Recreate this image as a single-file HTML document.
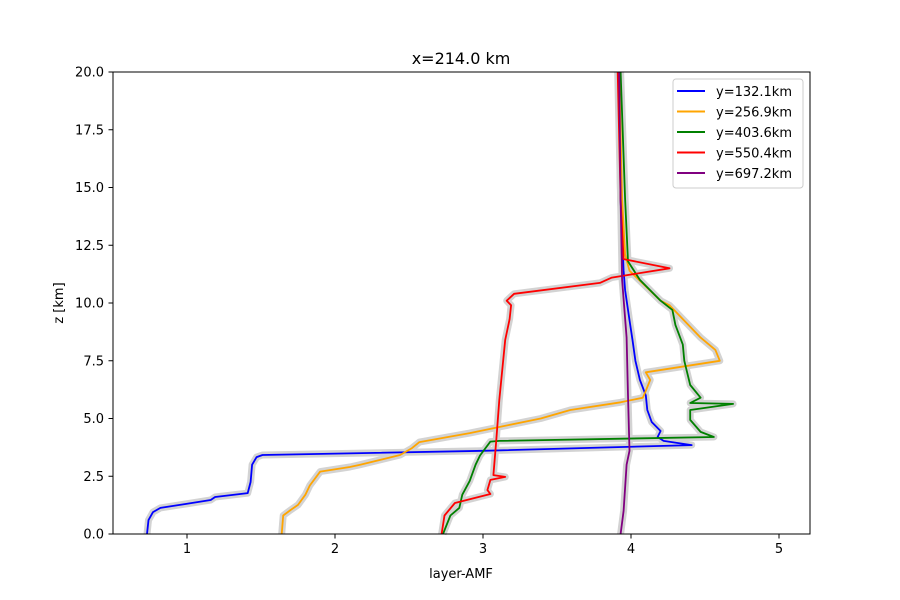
<!DOCTYPE html>
<html><head><meta charset="utf-8"><style>
body{margin:0;background:#fff}
svg{display:block;font-family:"DejaVu Sans","Liberation Sans",sans-serif}
</style></head><body>
<svg id="chart" width="900" height="600" xmlns="http://www.w3.org/2000/svg">
<rect width="900" height="600" fill="#fff"/>
<text x="461" y="64" font-size="16" text-anchor="middle">x=214.0 km</text>
<text x="461" y="578" font-size="13" text-anchor="middle">layer-AMF</text>
<text x="63" y="303" font-size="13" text-anchor="middle" transform="rotate(-90 63 303)">z [km]</text>
<g id="shades"></g>
<g id="lines"></g>
<rect x="113" y="72" width="697" height="462" fill="none" stroke="#000" stroke-width="1"/>
<g id="axes" font-size="13"></g>
<g id="legend">
<rect x="673" y="79" width="130" height="109" rx="3" fill="#fff" fill-opacity="0.8" stroke="#ccc"/>
</g>
</svg>
<script>
const xTicks=[1,2,3,4,5];
const yTicks=[0,2.5,5,7.5,10,12.5,15,17.5,20];
const seriesNames=["y=132.1km","y=256.9km","y=403.6km","y=550.4km","y=697.2km"];
const seriesColors=["blue","orange","green","red","purple"];
const blueX=[0.73,0.74,0.77,0.82,0.99,1.16,1.19,1.41,1.43,1.44,1.47,1.51,3.0,4.41,4.22,4.18,4.2,4.14,4.11,4.1,4.06,4.03,4.01,3.99,3.98,3.96,3.95,3.93,3.92];
const blueZ=[0,0.6,0.95,1.13,1.3,1.47,1.6,1.77,2.25,3.0,3.33,3.42,3.6,3.85,4.03,4.2,4.46,4.85,5.37,6.0,6.67,7.5,8.4,9.26,9.7,10.56,11.4,14.5,20];
const orangeX=[1.64,1.65,1.70,1.75,1.80,1.83,1.90,2.1,2.17,2.44,2.52,2.57,2.91,3.11,3.39,3.59,3.93,4.08,4.1,4.13,4.1,4.6,4.57,4.47,4.26,4.2,3.99,3.96,3.94,3.92];
const orangeZ=[0,0.8,1.04,1.26,1.7,2.1,2.7,2.9,3.0,3.42,3.72,3.98,4.37,4.63,5.0,5.37,5.7,5.9,6.2,6.67,7.0,7.5,7.97,8.5,9.9,10.1,11.4,12.1,14.5,20];
const greenX=[2.73,2.78,2.84,2.86,2.91,2.95,2.98,3.05,3.11,4.56,4.47,4.4,4.4,4.69,4.4,4.47,4.4,4.36,4.35,4.30,4.28,4.2,4.06,3.98,3.96,3.93];
const greenZ=[0,0.8,1.13,1.7,2.3,3.0,3.4,4.0,4.03,4.2,4.42,4.94,5.37,5.63,5.67,5.9,6.45,7.5,8.2,9.05,9.7,10.1,11.0,11.8,14.5,20];
const redX=[2.72,2.74,2.81,3.05,3.03,3.05,3.15,3.07,3.09,3.11,3.15,3.18,3.19,3.16,3.21,3.79,3.87,4.26,3.95,3.93,3.91];
const redZ=[0,0.8,1.34,1.73,1.9,2.34,2.47,2.55,4.07,5.8,8.4,9.3,9.9,10.1,10.4,10.87,11.1,11.5,11.9,14.5,20];
const purpleX=[3.93,3.95,3.96,3.97,3.99,3.98,3.97,3.94,3.93,3.92];
const purpleZ=[0,1.0,2.0,3.0,3.6,6.0,8.5,11.0,14.5,20];
const seriesXs=[blueX,orangeX,greenX,redX,purpleX];
const seriesZs=[blueZ,orangeZ,greenZ,redZ,purpleZ];

const NS="http://www.w3.org/2000/svg";
const sx=v=>113+(v-0.5)*148;
const sy=v=>534-v*23.1;
function mk(tag,attrs,parent){const e=document.createElementNS(NS,tag);for(const k in attrs)e.setAttribute(k,attrs[k]);parent.appendChild(e);return e;}
const axes=document.getElementById('axes');
xTicks.forEach(t=>{
  const l=mk('line',{x1:sx(t),x2:sx(t),y1:534,y2:538.5,stroke:'#000'},axes);
  
  
  const tx=mk('text',{x:sx(t),y:553,'text-anchor':'middle'},axes);
  tx.textContent=t;
  
  
});
yTicks.forEach(t=>{
  const l=mk('line',{x1:108.5,x2:113,y1:sy(t),y2:sy(t),stroke:'#000'},axes);
  
  
  const tx=mk('text',{x:104,y:sy(t)+4.5,'text-anchor':'end'},axes);
  tx.textContent=t.toFixed(1);
  
  
});
const shades=document.getElementById('shades'),lines=document.getElementById('lines'),legend=document.getElementById('legend');
seriesXs.forEach((xs,i)=>{
  const pts=xs.map((x,j)=>sx(x).toFixed(1)+','+sy(seriesZs[i][j]).toFixed(1)).join(' ');
  const s=mk('polyline',{points:pts,fill:'none',stroke:'#d3d3d3','stroke-width':7,'stroke-linejoin':'round'},shades);
  
  
  const p=mk('polyline',{points:pts,fill:'none',stroke:seriesColors[i],'stroke-width':1.8,'stroke-linejoin':'round'},lines);
  
  
  const ly=91+i*20.5;
  const ll=mk('line',{x1:677,x2:705,y1:ly,y2:ly,stroke:seriesColors[i],'stroke-width':2},legend);
  
  
  const lt=mk('text',{x:716,y:ly+5,'font-size':13},legend);
  lt.textContent=seriesNames[i];
  
  
});
</script>
</body></html>
